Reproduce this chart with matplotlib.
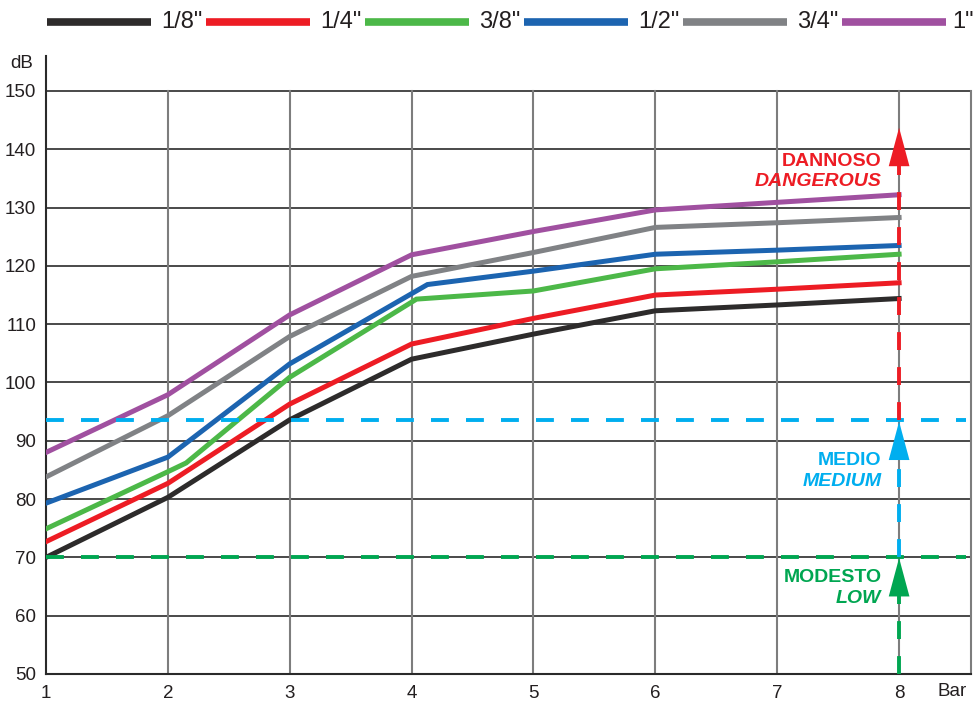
import matplotlib
matplotlib.use("Agg")
import matplotlib.pyplot as plt
from matplotlib.lines import Line2D

# ---------------- data ----------------
pressure_bar = [1, 2, 3, 4, 5, 6, 7, 8]
labels = ['1/8"', '1/4"', '3/8"', '1/2"', '3/4"', '1"']

db_18 = [70.0, 80.3, 93.6, 104.0, 108.3, 112.3, 113.3, 114.4]
db_14 = [72.7, 82.7, 96.3, 106.6, 111.0, 115.0, 116.0, 117.1]
x_38 = [1, 2, 2.15, 3, 4.04, 5, 6, 7, 8]
db_38 = [74.9, 84.7, 86.2, 100.9, 114.3, 115.7, 119.5, 120.7, 122.0]
x_12 = [1, 2, 3, 4.13, 5, 6, 7, 8]
db_12 = [79.3, 87.2, 103.2, 116.8, 119.1, 122.0, 122.7, 123.5]
db_34 = [83.8, 94.3, 107.9, 118.2, 122.3, 126.6, 127.4, 128.3]
db_1 = [88.0, 97.9, 111.6, 121.9, 125.9, 129.6, 130.9, 132.2]

series_x = [pressure_bar, pressure_bar, x_38, x_12, pressure_bar, pressure_bar]
series_y = [db_18, db_14, db_38, db_12, db_34, db_1]
colors = ["#2d2b2b", "#ed1c24", "#4cb848", "#1c64b0", "#808285", "#a050a0"]

low_level = 70.0
medium_level = 93.6
zone_names = [("MODESTO", "LOW"), ("MEDIO", "MEDIUM"), ("DANNOSO", "DANGEROUS")]
zone_colors = ["#00a651", "#00aeef", "#ed1c24"]
zone_starts = [50.0, 70.0, 93.6]
arrow_tips = [69.9, 93.3, 143.7]
zone_label_y = [66.5, 86.6, 137.9]
arrow_len = 6.6

y_ticks = [50, 60, 70, 80, 90, 100, 110, 120, 130, 140, 150]

# ---------------- figure ----------------
plt.rcParams['font.family'] = ['Liberation Sans', 'DejaVu Sans']
fig = plt.figure(figsize=(9.75, 7.04), dpi=100)
ax = fig.add_axes([46 / 975, 1 - 674 / 704, (971 - 46) / 975, (674 - 56) / 704])
xmax = 8.59
ax.set_xlim(1, xmax)
ax.set_ylim(50, 156)

# grid
for yv in y_ticks[1:]:
    ax.plot([1, xmax], [yv, yv], color="#3a3a3a", lw=1.3, zorder=1)
for xv in pressure_bar[1:]:
    ax.plot([xv, xv], [50, 150], color="#7d7d7d", lw=1.5, zorder=1)
ax.plot([xmax, xmax], [50, 150], color="#7d7d7d", lw=1.5, zorder=1, clip_on=False)

for s in ["top", "right"]:
    ax.spines[s].set_visible(False)
for s in ["left", "bottom"]:
    ax.spines[s].set_color("#2a2a2a")
    ax.spines[s].set_linewidth(1.5)

# data lines
for xs, ys, c in zip(series_x, series_y, colors):
    ax.plot(xs, ys, color=c, lw=3.6, zorder=3, solid_joinstyle="miter")

# horizontal threshold lines
dash = (4.6, 4.4)
ax.plot([1, 8.55], [low_level, low_level], color=zone_colors[0], lw=2.8,
        dashes=dash, zorder=4)
ax.plot([1, 8.55], [medium_level, medium_level], color=zone_colors[1], lw=2.8,
        dashes=dash, zorder=4)

# vertical zone arrows at x=8
for (it, en), c, y0, tip, ly in zip(zone_names, zone_colors, zone_starts,
                                     arrow_tips, zone_label_y):
    base = tip - arrow_len
    ax.plot([8, 8], [y0, base], color=c, lw=2.8, dashes=dash, zorder=5)
    ax.fill([8 - 0.085, 8 + 0.085, 8], [base, base, tip], color=c, lw=0, zorder=6)
    ax.text(7.855, ly, it, color=c, fontsize=14, fontweight="bold",
            ha="right", va="center", zorder=6)
    ax.text(7.855, ly - 3.5, en, color=c, fontsize=14, fontweight="bold",
            fontstyle="italic", ha="right", va="center", zorder=6)

# ticks
ax.set_xticks(pressure_bar)
ax.set_yticks(y_ticks)
ax.tick_params(axis="both", length=0, labelsize=13.5, colors="#231f20")
ax.tick_params(axis="y", pad=7)
ax.tick_params(axis="x", pad=8)
fig.text(952 / 975, 1 - 692 / 704, "Bar", fontsize=13.5,
         color="#231f20", ha="center", va="center")
fig.text(22 / 975, 1 - 63 / 704, "dB", fontsize=13.5,
         color="#231f20", ha="center", va="center")

# legend (row of handles and labels across the top)
leg_y = 1 - 22 / 704
for i, (lab, c) in enumerate(zip(labels, colors)):
    x0 = (47 + 159 * i) / 975
    x1 = (151 + 159 * i) / 975
    fig.add_artist(Line2D([x0, x1], [leg_y, leg_y], color=c, lw=5.5,
                          solid_capstyle="butt", transform=fig.transFigure))
    if i < len(labels) - 1:
        fig.text((161 + 159 * i) / 975, leg_y, lab, fontsize=17, color="#231f20",
                 ha="left", va="center")
    else:
        fig.text(974 / 975, leg_y, lab, fontsize=17, color="#231f20",
                 ha="right", va="center")

fig.savefig("out.png", dpi=100)
